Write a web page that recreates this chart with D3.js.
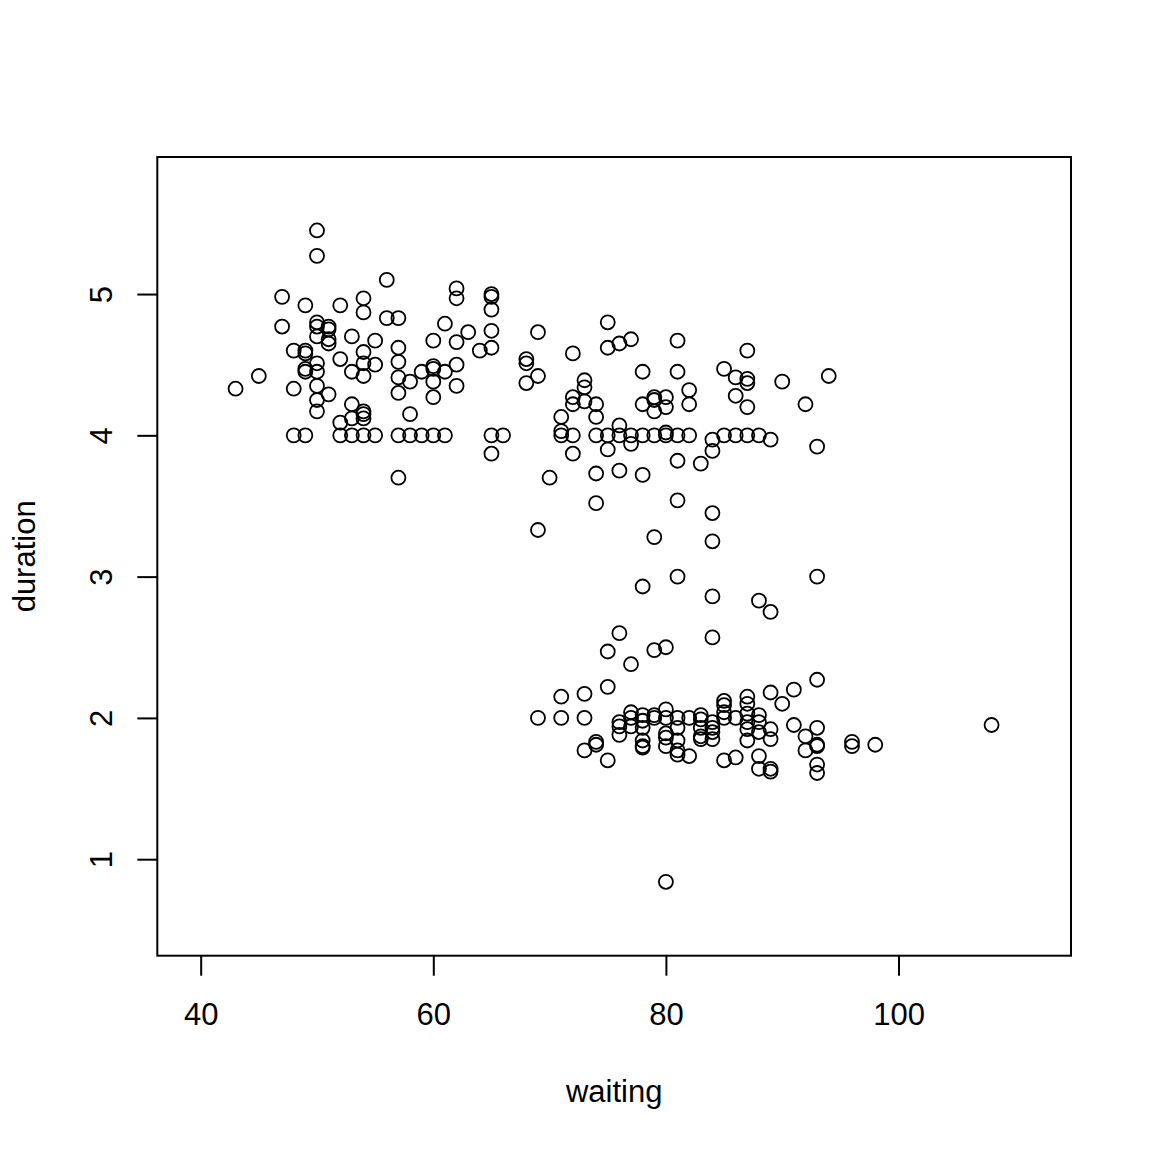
<!DOCTYPE html>
<html>
<head>
<meta charset="utf-8">
<script src="https://cdn.jsdelivr.net/npm/d3@7"></script>
<style>
  body { margin: 0; background: #fff; }
  text { font-family: "Liberation Sans", Arial, sans-serif; fill: #000; }
</style>
</head>
<body>
<div id="chart"></div>
<script>
// Waiting time (minutes) and eruption duration (minutes)
var waiting = [
  43, 45, 47, 47, 48, 48, 48, 49, 49, 49, 49, 49, 49,
  50, 50, 50, 50, 50, 50, 50, 50, 50, 50,
  51, 51, 51, 51, 51, 52, 52, 52, 52, 53, 53, 53, 53, 53,
  54, 54, 54, 54, 54, 54, 54, 54, 54, 55, 55, 55, 56, 56,
  57, 57, 57, 57, 57, 57, 57, 58, 58, 58, 59, 59,
  60, 60, 60, 60, 60, 60, 61, 61, 61, 62, 62, 62, 62, 62, 63, 64,
  65, 65, 65, 65, 65, 65, 65, 66,
  68, 68, 68, 69, 69, 69, 70, 71, 71, 71, 72, 72, 72, 72, 72,
  73, 73, 73, 74, 74, 74, 74, 74, 75, 75, 75, 75, 76, 76, 76, 76,
  77, 77, 77, 78, 78, 78, 78, 79, 79, 79, 79, 79, 80, 80, 80, 80,
  81, 81, 81, 81, 81, 82, 82, 82, 83, 84, 84, 84, 85, 85, 86, 86, 86,
  87, 87, 87, 87, 87, 88, 89, 90, 92, 93, 94,
  81, 93, 78, 84, 88, 89, 76, 84, 75, 79, 80, 77, 84,
  69, 71, 71, 73, 73, 73, 74, 74, 75, 75, 76, 76, 76, 77, 77, 77,
  78, 78, 78, 78, 78, 78, 79, 79, 80, 80, 80, 80, 80,
  81, 81, 81, 81, 81, 82, 82, 83, 83, 83, 83, 83, 84, 84, 84, 84,
  85, 85, 85, 85, 85, 86, 86, 87, 87, 87, 87, 87, 87,
  88, 88, 88, 88, 88, 89, 89, 89, 89, 89, 90, 91, 91, 92, 92,
  93, 93, 93, 93, 93, 93, 96, 96, 98, 108, 80
];
var duration = [
  4.33, 4.42, 4.98, 4.77, 4.60, 4.33, 4.00, 4.92, 4.60, 4.58, 4.47, 4.45, 4.00,
  5.45, 5.27, 4.80, 4.77, 4.70, 4.51, 4.45, 4.35, 4.25, 4.17,
  4.77, 4.75, 4.68, 4.65, 4.29, 4.92, 4.54, 4.09, 4.00, 4.70, 4.45, 4.22, 4.12, 4.00,
  4.97, 4.87, 4.59, 4.51, 4.42, 4.17, 4.15, 4.12, 4.00, 4.67, 4.50, 4.00, 5.10, 4.83,
  4.83, 4.62, 4.52, 4.41, 4.30, 4.00, 3.70, 4.38, 4.15, 4.00, 4.45, 4.00,
  4.67, 4.49, 4.47, 4.38, 4.27, 4.00, 4.79, 4.45, 4.00, 5.04, 4.97, 4.66, 4.50, 4.35, 4.73, 4.60,
  5.00, 4.98, 4.89, 4.74, 4.62, 4.00, 3.87, 4.00,
  4.54, 4.51, 4.37, 4.73, 4.42, 3.33, 3.70, 4.13, 4.03, 4.00, 4.58, 4.27, 4.22, 4.00, 3.87,
  4.39, 4.34, 4.24, 4.22, 4.13, 4.00, 3.73, 3.52, 4.80, 4.62, 4.00, 3.90, 4.65, 4.07, 4.00, 3.75,
  4.68, 4.00, 3.94, 4.45, 4.22, 4.00, 3.72, 4.27, 4.25, 4.17, 4.00, 3.28, 4.27, 4.20, 4.02, 4.00,
  4.67, 4.45, 4.00, 3.82, 3.54, 4.32, 4.22, 4.00, 3.80, 3.97, 3.89, 3.45, 4.47, 4.00, 4.41, 4.28, 4.00,
  4.60, 4.40, 4.37, 4.20, 4.00, 4.00, 3.97, 4.38, 4.22, 3.92, 4.42,
  3.00, 3.00, 2.93, 2.86, 2.83, 2.75, 2.60, 2.57, 2.47, 2.48, 2.50, 2.38, 3.25,
  2.00, 2.15, 2.00, 2.17, 2.00, 1.77, 1.83, 1.81, 2.22, 1.70, 1.97, 1.94, 1.88, 2.04, 2.00, 1.94,
  2.02, 1.98, 1.93, 1.84, 1.80, 1.79, 2.02, 2.00, 2.06, 2.00, 1.89, 1.86, 1.80,
  2.00, 1.93, 1.84, 1.77, 1.74, 2.00, 1.73, 2.02, 1.99, 1.93, 1.87, 1.85, 1.97, 1.93, 1.90, 1.85,
  2.12, 2.09, 2.04, 2.00, 1.70, 2.00, 1.72, 2.15, 2.10, 2.03, 1.97, 1.92, 1.84,
  2.02, 1.97, 1.90, 1.73, 1.64, 2.18, 1.92, 1.85, 1.64, 1.62, 2.10, 2.20, 1.95, 1.87, 1.77,
  2.27, 1.93, 1.81, 1.80, 1.67, 1.61, 1.83, 1.80, 1.81, 1.95, 0.84
];
var xTicks = [40, 60, 80, 100];
var yTicks = [1, 2, 3, 4, 5];

// Canvas and plot box
var w = 1152;
var h = 1152;
var box = { left: 157.3, right: 1071, top: 157, bottom: 955.7 };

var points = waiting.map(function (d, i) { return { x: d, y: duration[i] }; });

// Scales (domain chosen so the ticks sit where the picture has them)
var xScale = d3.scaleLinear()
    .domain([36.27, 114.83])
    .range([box.left, box.right]);

var yScale = d3.scaleLinear()
    .domain([0.317, 5.97])
    .range([box.bottom, box.top]);

var svg = d3.select("#chart")
    .append("svg")
    .attr("width", w)
    .attr("height", h);

// Points: open circles
svg.append("g")
    .selectAll("circle")
    .data(points)
    .enter()
    .append("circle")
    .attr("cx", d => xScale(d.x))
    .attr("cy", d => yScale(d.y))
    .attr("r", 7)
    .attr("fill", "none")
    .attr("stroke", "#000")
    .attr("stroke-width", 1.8);

// Plot frame
svg.append("rect")
    .attr("x", box.left)
    .attr("y", box.top)
    .attr("width", box.right - box.left)
    .attr("height", box.bottom - box.top)
    .attr("fill", "none")
    .attr("stroke", "#000")
    .attr("stroke-width", 2);

// X axis
var xAxis = d3.axisBottom(xScale).tickValues(xTicks).tickSize(20).tickFormat(d3.format("d"));
var gx = svg.append("g")
    .attr("transform", "translate(0," + box.bottom + ")")
    .call(xAxis);
gx.select(".domain").remove();
gx.selectAll(".tick line").attr("stroke", "#000").attr("stroke-width", 2);
gx.selectAll(".tick text")
    .attr("y", 69)
    .attr("dy", null)
    .style("font-size", "31px")
    .style("font-family", "'Liberation Sans', Arial, sans-serif")
    .attr("fill", "#000");

// Y axis, labels turned like R does
var yAxis = d3.axisLeft(yScale).tickValues(yTicks).tickSize(20).tickFormat(d3.format("d"));
var gy = svg.append("g")
    .attr("transform", "translate(" + box.left + ",0)")
    .call(yAxis);
gy.select(".domain").remove();
gy.selectAll(".tick line").attr("stroke", "#000").attr("stroke-width", 2);
gy.selectAll(".tick text")
    .attr("x", null)
    .attr("dy", null)
    .attr("text-anchor", "middle")
    .attr("transform", "translate(-45.6,0) rotate(-90)")
    .style("font-size", "31px")
    .style("font-family", "'Liberation Sans', Arial, sans-serif")
    .attr("fill", "#000");

// Axis titles
svg.append("text")
    .attr("x", (box.left + box.right) / 2)
    .attr("y", 1101.5)
    .attr("text-anchor", "middle")
    .style("font-size", "31px")
    .text("waiting");

svg.append("text")
    .attr("transform", "translate(35," + ((box.top + box.bottom) / 2) + ") rotate(-90)")
    .attr("text-anchor", "middle")
    .style("font-size", "31px")
    .text("duration");
</script>
</body>
</html>
